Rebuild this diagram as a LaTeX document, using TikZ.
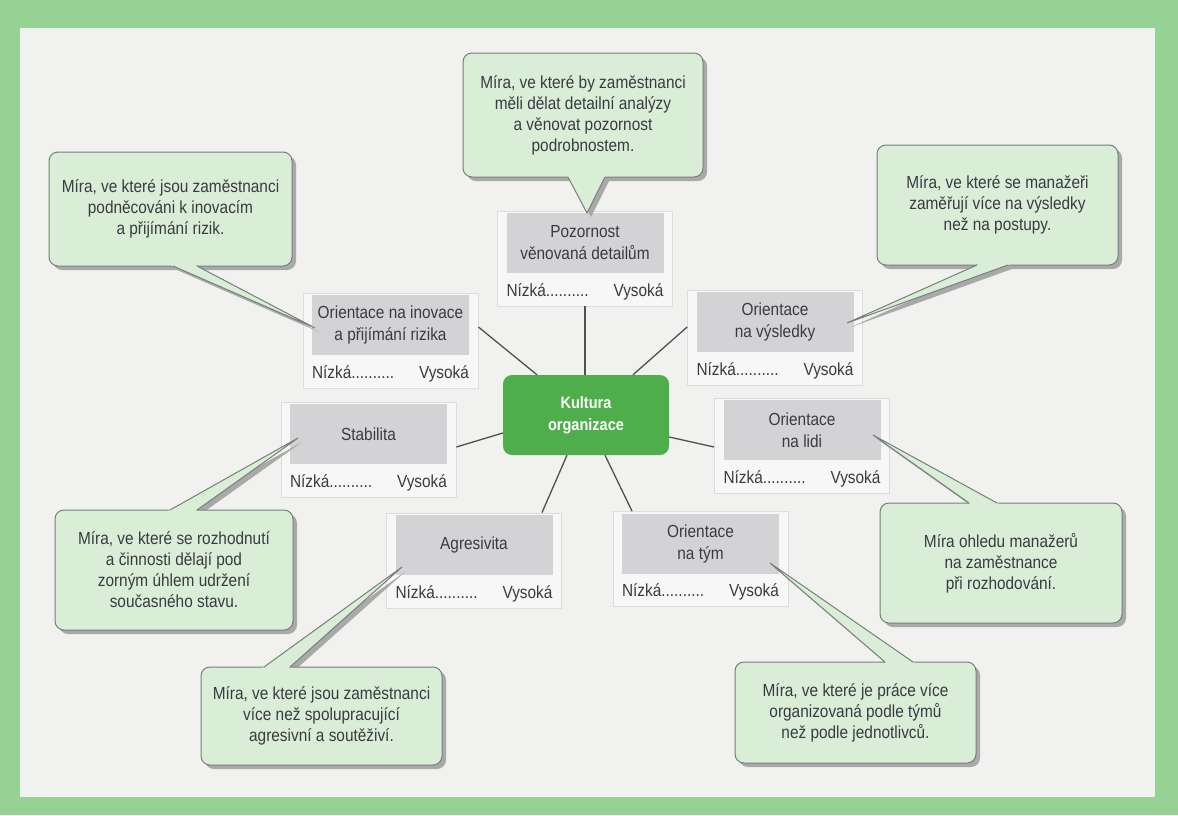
\documentclass[tikz,border=0pt]{standalone}
\usepackage{fontspec}
\setmainfont[FakeStretch=0.88]{Liberation Sans}
\usetikzlibrary{calc}
\definecolor{framegreen}{HTML}{96D294}
\definecolor{bgc}{HTML}{F1F1EF}
\definecolor{panelfill}{HTML}{F7F7F7}
\definecolor{panelline}{HTML}{DCDCDC}
\definecolor{grayfill}{HTML}{D3D3D6}
\definecolor{txt}{HTML}{3A3A42}
\definecolor{kgreen}{HTML}{4EAE4B}
\definecolor{callfill}{HTML}{DAEDD7}
\definecolor{callline}{HTML}{76807A}
\definecolor{shadowc}{HTML}{A9A9A9}
\definecolor{connc}{HTML}{505050}
\tikzset{
  every node/.style={text=txt, font=\fontsize{17.5}{21}\selectfont},
  outerbox/.style={draw=panelline, fill=panelfill, line width=0.8, minimum width=175, minimum height=95, inner sep=0},
  graybox/.style={fill=grayfill, minimum width=157, minimum height=60, inner sep=0, align=center, font=\fontsize{17.5}{22}\selectfont},
  lowtxt/.style={inner sep=0},
  kbox/.style={fill=kgreen, rounded corners=9, minimum width=166, minimum height=80, align=center, text=white, font=\bfseries\fontsize{16.5}{22}\selectfont},
  conn/.style={draw=connc, line width=1.3},
  callbox/.style={draw=callline, fill=callfill, line width=1, rounded corners=9, align=center, inner sep=0},
  tailline/.style={draw=callline, line width=1, line join=miter},
}
\newcommand{\mycallout}[9]{%
  \begin{scope}[shift={(4,4)}]
    \fill[shadowc, rounded corners=9] (#2,#3) rectangle (#4,#5);
    \fill[shadowc] #6 -- #8 -- #7 -- cycle;
  \end{scope}
  \node[callbox, minimum width={#4-#2}, minimum height={#5-#3}] (#1) at ({(#2+#4)/2},{(#3+#5)/2}) {#9};
  \fill[callfill] ($#6!-5pt!#8$) -- #8 -- ($#7!-5pt!#8$) -- cycle;
  \draw[tailline] #6 -- #8 -- #7;
}
\newcommand{\panel}[4]{%
  \node[outerbox] (#1o) at (#2,{#3+15.5}) {};
  \node[graybox] (#1) at (#2,#3) {#4};
  \node[lowtxt, anchor=base west] (#1lo) at ($(#1.south west)+(0,23)$) {Nízká..........};
  \node[lowtxt, anchor=base east] (#1hi) at ($(#1.south east)+(0,23)$) {Vysoká};
}
\begin{document}
\begin{tikzpicture}[x=1pt, y=-1pt]
\useasboundingbox (0,0) rectangle (1178,815);
\fill[framegreen] (0,0) rectangle (1178,815);
\fill[bgc] (20,28) rectangle (1155,797);

% panels
\panel{P}{585}{243}{Pozornost\\věnovaná detailům}
\panel{I}{390.5}{325}{Orientace na inovace\\a přijímání rizika}
\panel{V}{775}{322}{Orientace\\na výsledky}
\panel{S}{368.5}{434}{Stabilita}
\panel{L}{802}{430}{Orientace\\na lidi}
\panel{A}{474}{545}{Agresivita}
\panel{T}{700.5}{543.5}{Orientace\\na tým}

% centre
\node[kbox] (K) at (586,415) {Kultura\\organizace};

% connectors
\draw[conn] (Po.south) -- (Po.south |- K.north);
\draw[conn] (Io.east |- 0,327) -- (K.north -| 537,0);
\draw[conn] (Vo.west |- 0,327) -- (K.north -| 633,0);
\draw[conn] (So.east |- 0,447) -- (K.west |- 0,433);
\draw[conn] (K.east |- 0,437) -- (Lo.west |- 0,447);
\draw[conn] (K.south -| 567,0) -- (Ao.north -| 542,0);
\draw[conn] (K.south -| 605,0) -- (To.north -| 632,0);

% callouts
\mycallout{C1}{463}{53}{703}{177}{(568,177)}{(605,177)}{(587,213)}{Míra, ve které by zaměstnanci\\měli dělat detailní analýzy\\a věnovat pozornost\\podrobnostem.}
\mycallout{C2}{49}{152}{292}{266}{(173,266)}{(197,266)}{(315,328)}{Míra, ve které jsou zaměstnanci\\podněcováni k inovacím\\a přijímání rizik.}
\mycallout{C3}{877}{145}{1118}{265}{(977,265)}{(1008,265)}{(847,323)}{Míra, ve které se manažeři\\zaměřují více na výsledky\\než na postupy.}
\mycallout{C4}{55}{510}{293}{630}{(170,510)}{(197,510)}{(298,438)}{Míra, ve které se rozhodnutí\\a činnosti dělají pod\\zorným úhlem udržení\\současného stavu.}
\mycallout{C5}{880}{503}{1122}{623}{(969,503)}{(997,503)}{(873,435)}{Míra ohledu manažerů\\na zaměstnance\\při rozhodování.}
\mycallout{C6}{201}{667}{442}{765}{(264,667)}{(290,667)}{(402,567)}{Míra, ve které jsou zaměstnanci\\více než spolupracující\\agresivní a soutěživí.}
\mycallout{C7}{735}{662}{976}{763}{(885,662)}{(913,662)}{(770,563)}{Míra, ve které je práce více\\organizovaná podle týmů\\než podle jednotlivců.}
\end{tikzpicture}
\end{document}
